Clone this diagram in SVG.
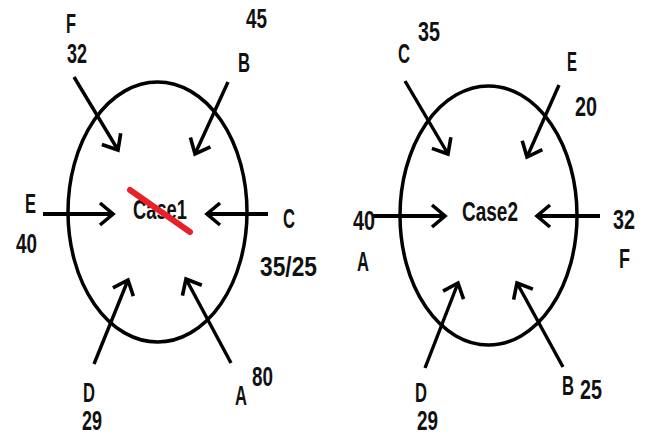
<svg xmlns="http://www.w3.org/2000/svg" width="651" height="436" viewBox="0 0 651 436">
<style>
text{font-family:"Liberation Sans",Arial,sans-serif;font-size:28px;font-weight:bold;fill:#111;}
.ell{fill:none;stroke:#000;stroke-width:3.5;}
.arr{fill:none;stroke:#000;stroke-width:3.4;marker-end:url(#ah);}
.h{stroke-width:4;}
</style>
<defs>
<marker id="ah" markerUnits="userSpaceOnUse" markerWidth="30" markerHeight="30" viewBox="-16 -15 20 30" refX="0" refY="0" orient="auto">
<path d="M-13,-11 L0,0 L-13,11" fill="none" stroke="#000" stroke-width="3.6" stroke-linejoin="miter"/>
</marker>
</defs>
<rect width="651" height="436" fill="#fff"/>
<g id="case1">
<ellipse class="ell" cx="157.5" cy="212" rx="89.5" ry="130"/>
<text x="133" y="219" textLength="54" lengthAdjust="spacingAndGlyphs">Case1</text>
<line x1="130" y1="190" x2="190" y2="232" stroke="#e8202a" stroke-width="6" stroke-linecap="round"/>
</g>
<g id="case2">
<ellipse class="ell" cx="488.5" cy="215.5" rx="88.5" ry="129.5"/>
<text x="462" y="221" textLength="56" lengthAdjust="spacingAndGlyphs">Case2</text>
</g>
<g id="connectors">
<line class="arr" x1="74" y1="77" x2="118" y2="150"/>
<line class="arr" x1="228" y1="82" x2="195" y2="154"/>
<line class="arr h" x1="43" y1="214" x2="113" y2="214"/>
<line class="arr h" x1="268" y1="214" x2="207" y2="214"/>
<line class="arr" x1="94" y1="364" x2="128" y2="280"/>
<line class="arr" x1="231" y1="363" x2="186" y2="279"/>
<line class="arr" x1="405" y1="81" x2="448" y2="154"/>
<line class="arr" x1="559" y1="85" x2="527" y2="157"/>
<line class="arr h" x1="373" y1="216" x2="445" y2="216"/>
<line class="arr h" x1="600" y1="216" x2="537" y2="216"/>
<line class="arr" x1="425" y1="368" x2="458" y2="283"/>
<line class="arr" x1="563" y1="367" x2="517" y2="283"/>
</g>
<g id="labels1">
<text x="66" y="33" textLength="10" lengthAdjust="spacingAndGlyphs">F</text>
<text x="67" y="63" textLength="20" lengthAdjust="spacingAndGlyphs">32</text>
<text x="246" y="28" textLength="21" lengthAdjust="spacingAndGlyphs">45</text>
<text x="238" y="72" textLength="12" lengthAdjust="spacingAndGlyphs">B</text>
<text x="25" y="213" textLength="11" lengthAdjust="spacingAndGlyphs">E</text>
<text x="16" y="253" textLength="21" lengthAdjust="spacingAndGlyphs">40</text>
<text x="283" y="228" textLength="12" lengthAdjust="spacingAndGlyphs">C</text>
<text x="260" y="276" textLength="57" lengthAdjust="spacingAndGlyphs">35/25</text>
<text x="83" y="402" textLength="12" lengthAdjust="spacingAndGlyphs">D</text>
<text x="82" y="430" textLength="20" lengthAdjust="spacingAndGlyphs">29</text>
<text x="235" y="405" textLength="12" lengthAdjust="spacingAndGlyphs">A</text>
<text x="252" y="386" textLength="21" lengthAdjust="spacingAndGlyphs">80</text>
</g>
<g id="labels2">
<text x="398" y="63" textLength="12" lengthAdjust="spacingAndGlyphs">C</text>
<text x="418" y="41" textLength="22" lengthAdjust="spacingAndGlyphs">35</text>
<text x="567" y="71" textLength="10" lengthAdjust="spacingAndGlyphs">E</text>
<text x="575" y="116" textLength="22" lengthAdjust="spacingAndGlyphs">20</text>
<text x="353" y="230" textLength="22" lengthAdjust="spacingAndGlyphs">40</text>
<text x="357" y="271" textLength="12" lengthAdjust="spacingAndGlyphs">A</text>
<text x="613" y="229" textLength="22" lengthAdjust="spacingAndGlyphs">32</text>
<text x="619" y="268" textLength="11" lengthAdjust="spacingAndGlyphs">F</text>
<text x="415" y="402" textLength="12" lengthAdjust="spacingAndGlyphs">D</text>
<text x="417" y="430" textLength="21" lengthAdjust="spacingAndGlyphs">29</text>
<text x="562" y="395" textLength="12" lengthAdjust="spacingAndGlyphs">B</text>
<text x="580" y="399" textLength="22" lengthAdjust="spacingAndGlyphs">25</text>
</g>
</svg>
